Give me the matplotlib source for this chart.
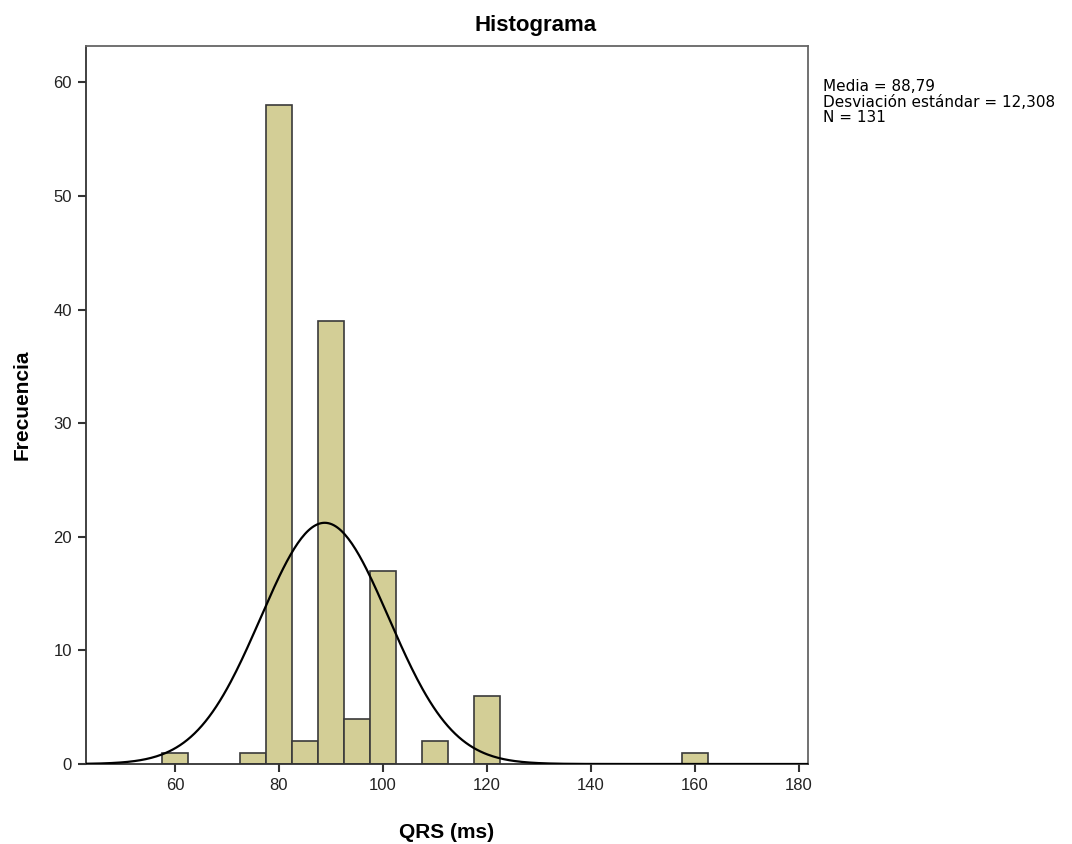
import matplotlib.pyplot as plt
import numpy as np

plt.rcParams['font.family'] = ['Liberation Sans', 'DejaVu Sans']

# histogram bins (centre, count), bin width 5 ms
bin_centers = [60, 75, 80, 85, 90, 95, 100, 110, 120, 160]
counts = [1, 1, 58, 2, 39, 4, 17, 2, 6, 1]
bin_width = 5
media = 88.79
desv = 12.308
n = 131

fig = plt.figure(figsize=(10.72, 8.44), dpi=100, facecolor='white')
ax = fig.add_axes([0.0802, 0.0948, 0.6735, 0.8507])

ax.bar(bin_centers, counts, width=bin_width, color='#d3ce96',
       edgecolor='#3a3a3a', linewidth=1.2, zorder=2)

# curva normal
xs = np.linspace(42.9, 181.7, 400)
ys = n * bin_width / (desv * np.sqrt(2 * np.pi)) * np.exp(-0.5 * ((xs - media) / desv) ** 2)
ax.plot(xs, ys, color='black', linewidth=1.6, zorder=3)

ax.set_xlim(42.9, 181.7)
ax.set_ylim(0, 63.2)
ax.set_xticks([60, 80, 100, 120, 140, 160, 180])
ax.set_yticks([0, 10, 20, 30, 40, 50, 60])
ax.tick_params(direction='out', length=6, width=1.5, color='#333333',
               labelsize=12, labelcolor='#222222', pad=4)
for s in ax.spines.values():
    s.set_color('#333333')
    s.set_linewidth(1.3)
ax.spines['top'].set_color('#666666')
ax.spines['right'].set_color('#666666')

ax.set_xlabel('QRS (ms)', fontsize=15, fontweight='bold', labelpad=22)
fig.text(0.021, 0.52, 'Frecuencia', rotation=90, ha='center', va='center',
         fontsize=15, fontweight='bold')
fig.text(0.5, 0.97, 'Histograma', ha='center', va='center',
         fontsize=16, fontweight='bold')

fig.text(0.768, 0.906, 'Media = 88,79\nDesviación estándar = 12,308\nN = 131',
         ha='left', va='top', fontsize=11, linespacing=1.02,
         family=['DejaVu Sans'])

plt.savefig('out.png', dpi=100, facecolor='white')
